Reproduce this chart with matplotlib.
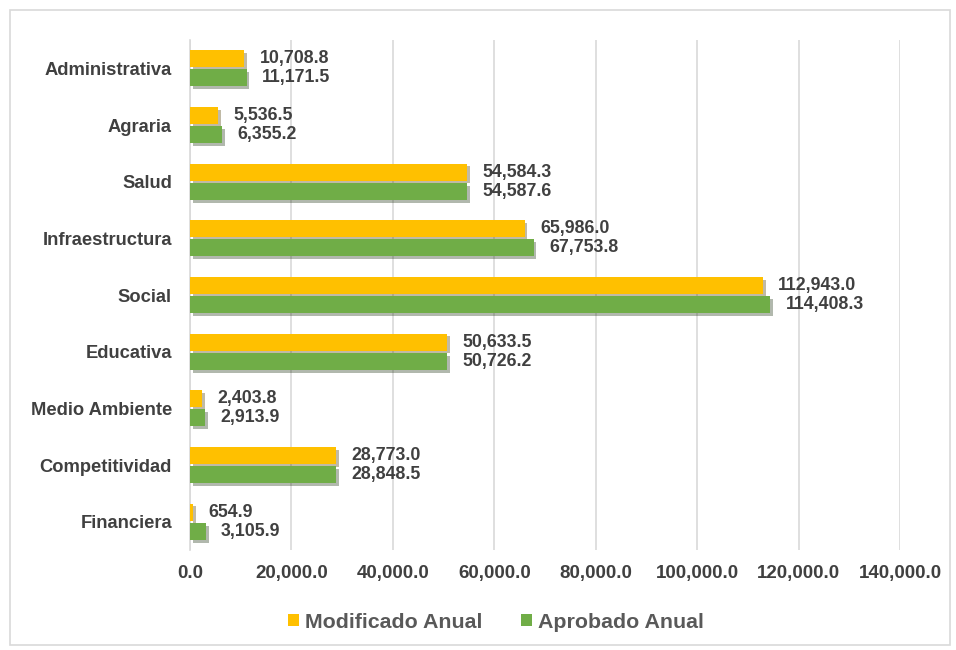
import matplotlib.pyplot as plt
import matplotlib.patheffects as pe
from matplotlib.patches import Rectangle
from matplotlib.ticker import FuncFormatter

plt.rcParams['font.family'] = ['Liberation Sans', 'DejaVu Sans']

categories = ["Administrativa", "Agraria", "Salud", "Infraestructura", "Social",
              "Educativa", "Medio Ambiente", "Competitividad", "Financiera"]
modificado = [10708.8, 5536.5, 54584.3, 65986.0, 112943.0, 50633.5, 2403.8, 28773.0, 654.9]
aprobado = [11171.5, 6355.2, 54587.6, 67753.8, 114408.3, 50726.2, 2913.9, 28848.5, 3105.9]

YELLOW = "#FFC000"
GREEN = "#70AD47"
TXT = "#404040"

fig = plt.figure(figsize=(9.56, 6.5), dpi=100)
ax = fig.add_axes([190 / 956, 1 - 550 / 650, 710 / 956, 510 / 650])

# outer frame like the Excel chart area
fig.patches.append(Rectangle((10 / 956, 5 / 650), 940 / 956, 635 / 650,
                             transform=fig.transFigure, fill=False,
                             edgecolor="#d9d9d9", linewidth=1.2))

y = list(range(len(categories)))
h = 0.30
shadow = [pe.SimplePatchShadow(offset=(2, -2), alpha=0.35), pe.Normal()]
b1 = ax.barh([i - 0.17 for i in y], modificado, height=h, color=YELLOW,
             label="Modificado Anual", path_effects=shadow, zorder=3)
b2 = ax.barh([i + 0.17 for i in y], aprobado, height=h, color=GREEN,
             label="Aprobado Anual", path_effects=shadow, zorder=3)

for i, v in enumerate(modificado):
    ax.annotate(f"{v:,.1f}", (v, i - 0.17), xytext=(11, 0), textcoords="offset points",
                va="center", ha="left", fontsize=12.8, fontweight="bold", color=TXT)
for i, v in enumerate(aprobado):
    ax.annotate(f"{v:,.1f}", (v, i + 0.17), xytext=(11, 0), textcoords="offset points",
                va="center", ha="left", fontsize=12.8, fontweight="bold", color=TXT)

ax.set_xlim(0, 140000)
ax.set_ylim(len(categories) - 0.5, -0.5)
ax.set_xticks(range(0, 140001, 20000))
ax.xaxis.set_major_formatter(FuncFormatter(lambda v, p: f"{v:,.1f}"))
ax.set_yticks(y)
ax.set_yticklabels(categories)
ax.tick_params(axis="both", length=0, labelcolor=TXT)
ax.tick_params(axis="x", pad=11, labelsize=13.5)
ax.tick_params(axis="y", pad=13, labelsize=13.2)
for lbl in ax.get_xticklabels() + ax.get_yticklabels():
    lbl.set_fontweight("bold")

ax.grid(axis="x", color="#d9d9d9", linewidth=1.2, zorder=0)
for s in ["top", "right", "bottom"]:
    ax.spines[s].set_visible(False)
ax.spines["left"].set_color("#d9d9d9")
ax.spines["left"].set_linewidth(1.2)

leg = fig.legend(handles=[b1, b2], loc="center", bbox_to_anchor=(496 / 956, 1 - 622 / 650),
                 ncol=2, frameon=False, handlelength=0.5, handleheight=0.5,
                 handletextpad=0.3, columnspacing=1.8,
                 prop={"size": 15.4, "weight": "bold"})
for t in leg.get_texts():
    t.set_color("#595959")
for p in leg.get_patches():
    p.set_path_effects([])

fig.savefig("out.png", dpi=100)
